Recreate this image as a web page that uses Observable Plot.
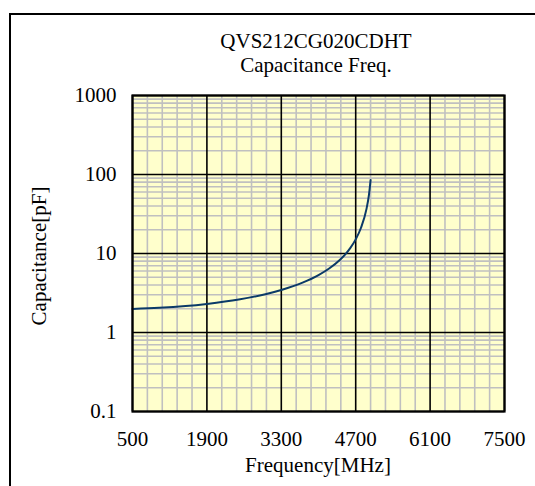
<!DOCTYPE html>
<html>
<head>
<meta charset="utf-8">
<script src="https://cdn.jsdelivr.net/npm/d3@7"></script>
<script src="https://cdn.jsdelivr.net/npm/@observablehq/plot@0.6"></script>
<style>
  html, body { margin: 0; padding: 0; background: #fff; width: 535px; height: 486px; overflow: hidden; }
  #wrap { position: relative; width: 535px; height: 486px; font-family: "Liberation Serif", "DejaVu Serif", serif; color: #000; }
  #outer { position: absolute; left: 9px; top: 13px; width: 600px; height: 600px; border: 2px solid #000; box-sizing: border-box; }
  .t { position: absolute; font-size: 21px; white-space: nowrap; line-height: 1; }
  #chart { position: absolute; left: 0; top: 0; }
</style>
</head>
<body>
<div id="wrap">
  <div id="outer"></div>
  <div id="chart"></div>
  <div class="t" id="t1" style="left:316px; top:31px; transform:translateX(-50%);">QVS212CG020CDHT</div>
  <div class="t" id="t2" style="left:316px; top:55px; transform:translateX(-50%);">Capacitance Freq.</div>
  <div class="t" id="xl" style="left:318px; top:455px; transform:translateX(-50%);">Frequency[MHz]</div>
  <div class="t" id="yl" style="left:39px; top:256px; transform:translate(-50%,-50%) rotate(-90deg);">Capacitance[pF]</div>
</div>
<script>
// Data
const freq = [500, 1000, 1500, 1900, 2500, 3000, 3300, 3700, 4000, 4200, 4400, 4500, 4600, 4700, 4800, 4900, 4950, 4980];
const capacitance = [1.99, 2.05, 2.16, 2.30, 2.61, 3.05, 3.45, 4.27, 5.32, 6.45, 8.28, 9.7, 11.8, 15.1, 21.2, 35.9, 55.6, 85];

const xTicks = [500, 1900, 3300, 4700, 6100, 7500];
const yTicks = [0.1, 1, 10, 100, 1000];
const xMinorStep = 280;

const xMinor = d3.range(xTicks[0], xTicks[xTicks.length - 1] + 1, xMinorStep).filter(v => !xTicks.includes(v));
const yMinor = [];
for (let i = 0; i < yTicks.length - 1; i++) {
  for (let k = 2; k <= 9; k++) yMinor.push(+(yTicks[i] * k).toPrecision(3));
}

const data = freq.map((f, i) => ({f, c: capacitance[i]}));

const chart = Plot.plot({
  width: 535,
  height: 486,
  marginLeft: 132,
  marginRight: 31,
  marginTop: 95,
  marginBottom: 75,
  x: {domain: [500, 7500]},
  y: {type: "log", domain: [0.1, 1000]},
  style: {fontFamily: "'Liberation Serif', serif", fontSize: "21px", color: "#000", background: "transparent", overflow: "visible"},
  marks: [
    Plot.frame({fill: "#FFFFCC"}),
    Plot.ruleX(xMinor, {stroke: "#C0C0C0", strokeWidth: 1.6}),
    Plot.ruleY(yMinor, {stroke: "#C0C0C0", strokeWidth: 1.6}),
    Plot.ruleX(xTicks, {stroke: "#000", strokeWidth: 1.6}),
    Plot.ruleY(yTicks, {stroke: "#000", strokeWidth: 1.6}),
    Plot.line(data, {x: "f", y: "c", stroke: "#0B3A68", strokeWidth: 2, curve: "monotone-x"}),
    Plot.frame({stroke: "#000", strokeWidth: 2.2}),
    Plot.axisX({ticks: xTicks, tickSize: 0, tickPadding: 20, label: null, tickFormat: d => String(d), fontSize: 21}),
    Plot.axisY({ticks: yTicks, tickSize: 0, tickPadding: 16, label: null, tickFormat: d => String(d), fontSize: 21})
  ]
});
document.getElementById("chart").appendChild(chart);
</script>
</body>
</html>
